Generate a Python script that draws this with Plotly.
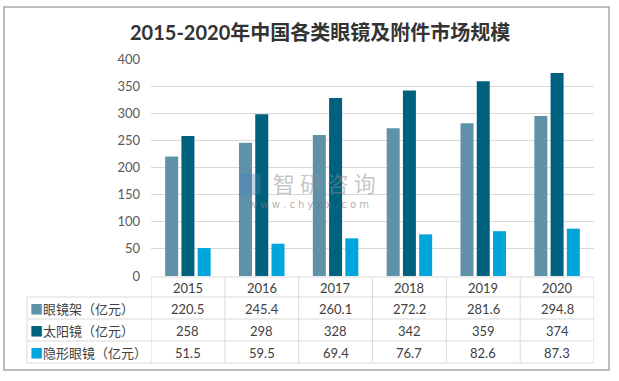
import plotly.graph_objects as go

years = ['2015', '2016', '2017', '2018', '2019', '2020']
frames = [220.5, 245.4, 260.1, 272.2, 281.6, 294.8]
sunglasses = [258, 298, 328, 342, 359, 374]
contacts = [51.5, 59.5, 69.4, 76.7, 82.6, 87.3]
series_names = ['眼镜架（亿元）', '太阳镜（亿元）', '隐形眼镜（亿元）']
series_values = [frames, sunglasses, contacts]
colors = ['#5F91A8', '#00617F', '#00A5DC']
title = '2015-2020年中国各类眼镜及附件市场规模'

W, H = 619, 381
ML, MR, MT, MB = 151, 25, 59, 105
PW, PH = W - ML - MR, H - MT - MB

def px(xp):
    return (xp - ML) / PW

def py(yp):
    return (H - MB - yp) / PH

FONT = "Lato, 'Noto Sans CJK SC', sans-serif"

fig = go.Figure()
for name, vals, col in zip(series_names, series_values, colors):
    fig.add_trace(go.Bar(x=years, y=vals, name=name, marker=dict(color=col, line=dict(width=0)),
                         showlegend=False, hoverinfo='skip'))

shapes = []
grid = '#D9D9D9'
shapes.append(dict(type='rect', xref='paper', yref='paper', x0=px(4), x1=px(609), y0=py(370), y1=py(7),
                   line=dict(color='#A6A6A6', width=1.5), fillcolor='rgba(0,0,0,0)', layer='below'))
row_y = [277, 297, 319, 341, 363]
shapes.append(dict(type='line', xref='paper', yref='paper', x0=0, x1=1, y0=py(row_y[0]), y1=py(row_y[0]),
                   line=dict(color=grid, width=1)))
for yy in row_y[1:]:
    shapes.append(dict(type='line', xref='paper', yref='paper', x0=px(27), x1=1, y0=py(yy), y1=py(yy),
                       line=dict(color=grid, width=1)))
shapes.append(dict(type='line', xref='paper', yref='paper', x0=px(27), x1=px(27), y0=py(row_y[1]), y1=py(row_y[-1]),
                   line=dict(color=grid, width=1)))
for i in range(len(years) + 1):
    xv = i - 0.5
    shapes.append(dict(type='line', xref='x', yref='paper', x0=xv, x1=xv, y0=py(row_y[0]), y1=py(row_y[-1]),
                       line=dict(color=grid, width=1)))

annotations = []
annotations.append(dict(text='<b>' + title + '</b>', xref='paper', yref='paper', x=px(320), y=py(32),
                        showarrow=False, xanchor='center', yanchor='middle',
                        font=dict(family=FONT, size=20, color='#333333')))
for i, yr in enumerate(years):
    annotations.append(dict(text=yr, xref='x', yref='paper', x=i, y=py(287.5), showarrow=False,
                            xanchor='center', yanchor='middle', font=dict(family=FONT, size=13, color='#404040')))
row_centers = [308.5, 330.5, 352.5]
for name, vals, col, rc in zip(series_names, series_values, colors, row_centers):
    annotations.append(dict(text="<span style='color:%s'>■</span>%s" % (col, name), xref='paper', yref='paper',
                            x=px(28), y=py(rc), showarrow=False, xanchor='left', yanchor='middle',
                            font=dict(family="'Noto Sans CJK SC', sans-serif", size=13, color='#404040')))
    for i, v in enumerate(vals):
        annotations.append(dict(text=str(v), xref='x', yref='paper', x=i, y=py(rc), showarrow=False,
                                xanchor='center', yanchor='middle',
                                font=dict(family=FONT, size=13, color='#404040')))
# watermark
annotations.append(dict(text='智 研 咨 询', xref='paper', yref='paper', x=px(324), y=py(182), showarrow=False,
                        xanchor='center', yanchor='middle',
                        font=dict(family="'Noto Sans CJK SC', sans-serif", size=22, color='rgba(140,140,140,0.5)')))
annotations.append(dict(text='w w w . c h y x x . c o m', xref='paper', yref='paper', x=px(309), y=py(204),
                        showarrow=False, xanchor='center', yanchor='middle',
                        font=dict(family="'DejaVu Sans', sans-serif", size=10, color='rgba(120,120,120,0.6)')))
annotations.append(dict(text='■', xref='paper', yref='paper', x=px(250), y=py(182), showarrow=False,
                        xanchor='center', yanchor='middle',
                        font=dict(family="'Noto Sans CJK SC', sans-serif", size=26, color='rgba(70,130,190,0.35)')))

fig.update_layout(
    width=W, height=H,
    margin=dict(l=ML, r=MR, t=MT, b=MB, pad=0),
    paper_bgcolor='white', plot_bgcolor='white',
    barmode='group', bargap=0.34, bargroupgap=0.2,
    xaxis=dict(type='category', range=[-0.5, len(years) - 0.5], showticklabels=False, showgrid=False,
               zeroline=False, showline=False, ticks=''),
    yaxis=dict(range=[0, 400], dtick=50, showgrid=True, gridcolor=grid, gridwidth=1, zeroline=False,
               showline=False, ticks='', ticklabelstandoff=10,
               tickfont=dict(family=FONT, size=13, color='#595959')),
    shapes=shapes, annotations=annotations,
    font=dict(family=FONT),
)

fig.write_html('out.html', config={'displayModeBar': False},
               post_script="document.body.style.margin='0';document.body.style.overflow='hidden';")
